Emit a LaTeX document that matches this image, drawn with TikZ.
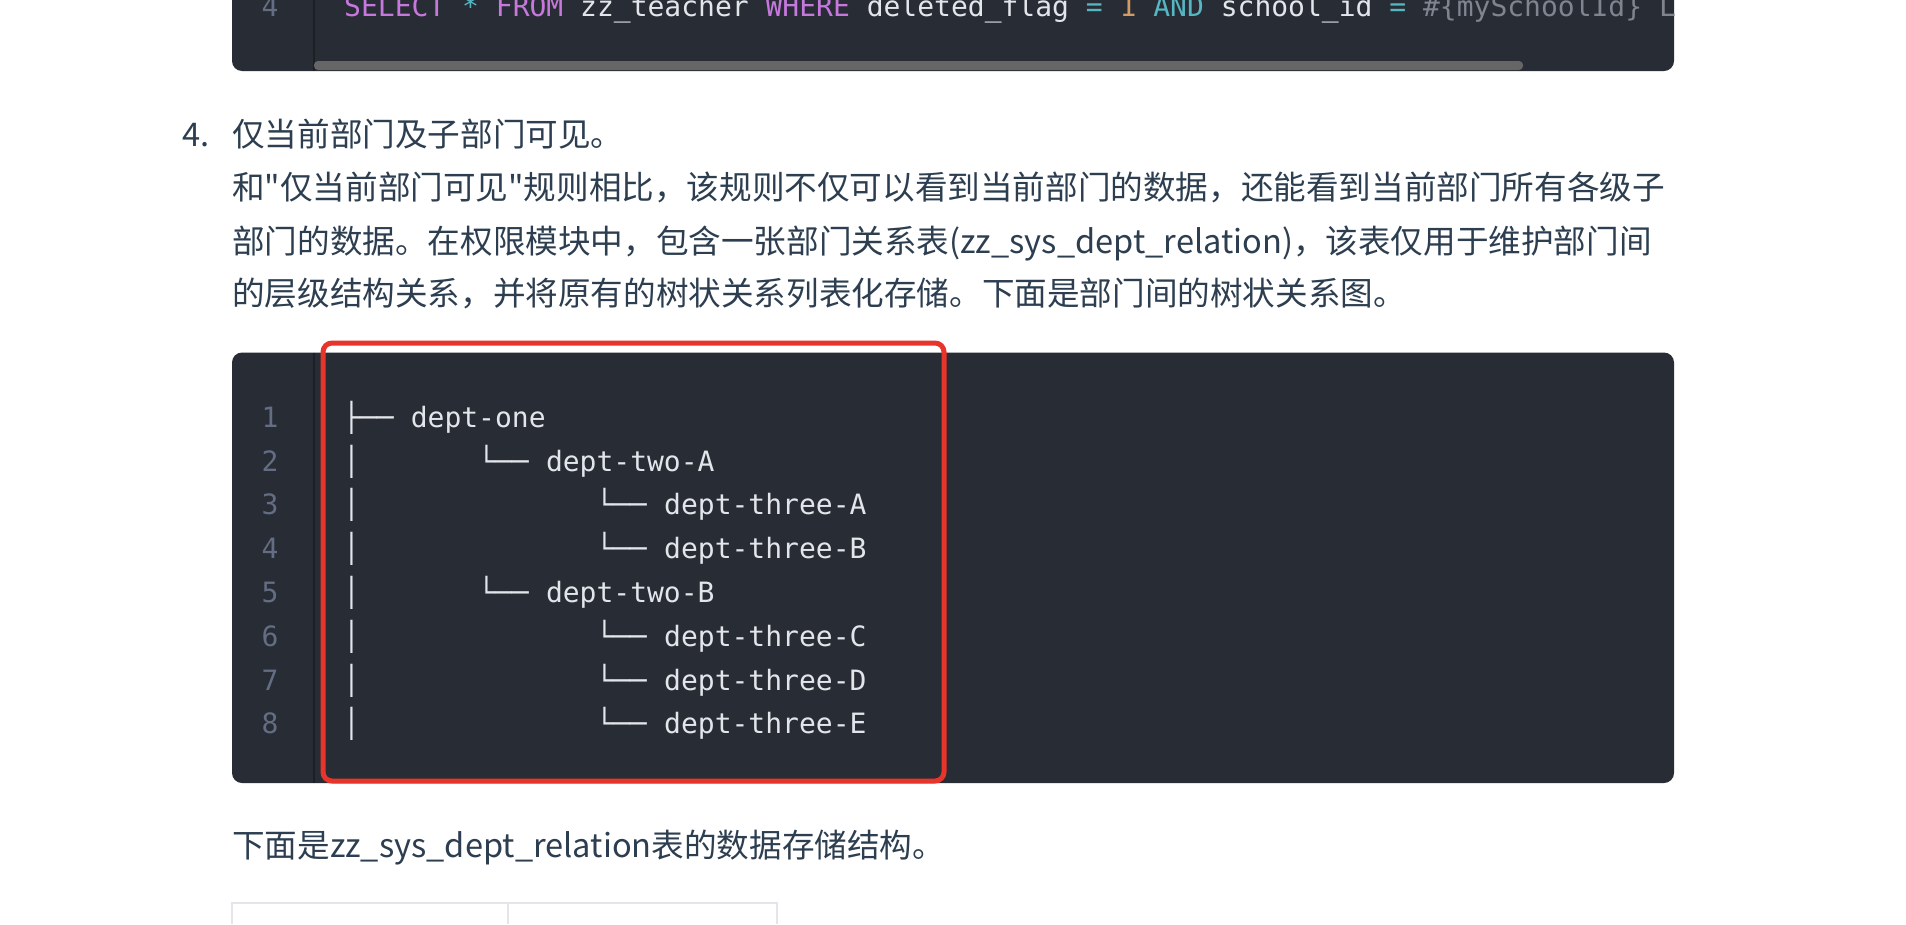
\documentclass[tikz,border=0pt]{standalone}
\usepackage{fontspec}
\newfontfamily\bodyfont{Noto Sans CJK SC}
\newfontfamily\codefont{DejaVu Sans Mono}
\definecolor{codebg}{HTML}{282C34}
\definecolor{gutterline}{HTML}{1C1F24}
\definecolor{lineno}{HTML}{636D83}
\definecolor{codefg}{HTML}{E2E5EA}
\definecolor{kw}{HTML}{C678DD}
\definecolor{op}{HTML}{56B6C2}
\definecolor{num}{HTML}{D19A66}
\definecolor{cmt}{HTML}{7F848E}
\definecolor{bodytext}{HTML}{2C3E50}
\definecolor{hl}{HTML}{E8352B}
\definecolor{tableline}{HTML}{E3E5E8}
\definecolor{scroll}{HTML}{666666}
\begin{document}
\begin{tikzpicture}[x=1pt,y=-1pt,
  body/.style={anchor=base west, inner sep=0pt, text=bodytext, font=\bodyfont\fontsize{32.6}{40}\selectfont},
  code/.style={anchor=base west, inner sep=0pt, text=codefg, font=\codefont\fontsize{28}{34}\selectfont},
  lnum/.style={anchor=base, inner sep=0pt, text=lineno, font=\codefont\fontsize{28}{34}\selectfont},
  codeblock/.style={fill=codebg, rounded corners=10pt},
  gutter/.style={draw=gutterline, line width=1.6pt},
  highlight/.style={draw=hl, line width=5pt, rounded corners=9pt},
  tbl/.style={draw=tableline, line width=1.6pt}]
\useasboundingbox[fill=white] (0,0) rectangle (1906,924);
% ---- top code block (cut off) ----
\begin{scope}
\clip (0,0) rectangle (1906,924);
\path[codeblock] (232,-60) rectangle (1674,71);
\draw[gutter] (314,0) -- (314,71);
\fill[scroll, rounded corners=4pt] (314,61) rectangle (1523,70);
\node[lnum] (top-n) at (270,16) {4};
\node[code] (sql) at (344,16) {\textcolor{kw}{SELECT} \textcolor{op}{*} \textcolor{kw}{FROM} zz\_teacher \textcolor{kw}{WHERE} deleted\_flag \textcolor{op}{=} \textcolor{num}{1} \textcolor{op}{AND} school\_id \textcolor{op}{=} \textcolor{cmt}{\#\{mySchoolId\}} \textcolor{cmt}{L}};
\end{scope}
% ---- text ----
\node[body] (num4) at (182,146) {4.};
\node[body] (title) at (232,146) {仅当前部门及子部门可见。};
\node[body] (p1) at (232,199) {和"仅当前部门可见"规则相比，该规则不仅可以看到当前部门的数据，还能看到当前部门所有各级子};
\node[body] (p2) at (232,253) {部门的数据。在权限模块中，包含一张部门关系表(zz\_sys\_dept\_relation)，该表仅用于维护部门间};
\node[body] (p3) at (232,305) {的层级结构关系，并将原有的树状关系列表化存储。下面是部门间的树状关系图。};
% ---- tree code block ----
\path[codeblock] (232,352.5) rectangle (1674,783);
\draw[gutter] (314,352.5) -- (314,783);
\foreach \i/\y in {1/427,2/471,3/514,4/558,5/602,6/646,7/690,8/733}{
  \node[lnum] (ln\i) at (270,\y) {\i};
}
% row 1
\node[code] (b1) at (343,427) {├──};
\node[code] (t1) at (410.6,427) {dept-one};
% vertical bars rows 2-8
\foreach \i/\y in {2/471,3/514,4/558,5/602,6/646,7/690,8/733}{
  \node[code] (v\i) at (343,\y) {│};
}
% level 2
\node[code] (b2) at (478,471) {└──};
\node[code] (t2) at (545.8,471) {dept-two-A};
\node[code] (b5) at (478,602) {└──};
\node[code] (t5) at (545.8,602) {dept-two-B};
% level 3
\foreach \i/\y/\n in {3/514/A,4/558/B,6/646/C,7/690/D,8/733/E}{
  \node[code] (b\i) at (596,\y) {└──};
  \node[code] (t\i) at (664,\y) {dept-three-\n};
}
% highlight box
\draw[highlight] (323,343) rectangle (944,781);
% ---- bottom text ----
\node[body] (p4) at (232,857) {下面是zz\_sys\_dept\_relation表的数据存储结构。};
% ---- table top ----
\draw[tbl] (232,924) -- (232,903) -- (777,903) -- (777,924);
\draw[tbl] (508,903) -- (508,924);
\end{tikzpicture}
\end{document}
